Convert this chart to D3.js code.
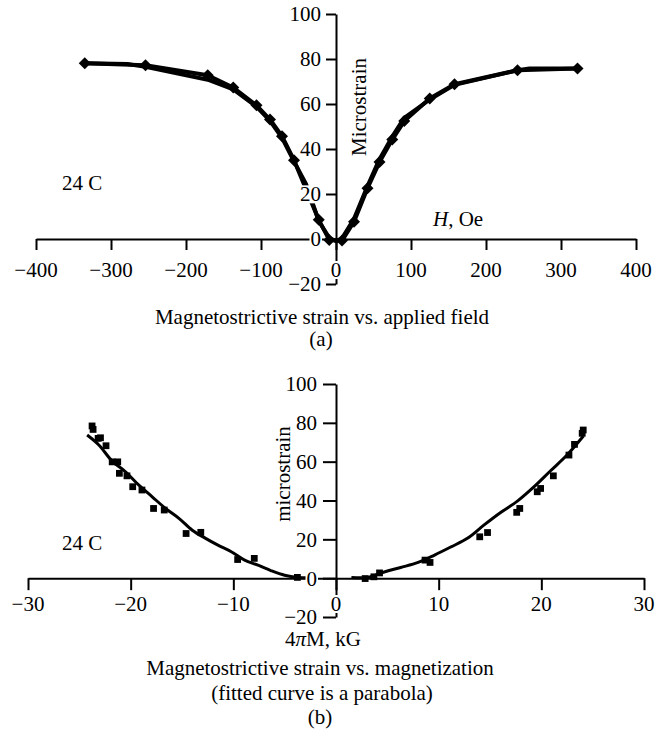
<!DOCTYPE html>
<html>
<head>
<meta charset="utf-8">
<script src="https://cdn.jsdelivr.net/npm/d3@7"></script>
<style>
body { margin: 0; background: #fff; }
text { font-family: "Liberation Serif", "DejaVu Serif", serif; font-size: 21px; fill: #000; }
</style>
</head>
<body>
<script>
// (a) strain vs applied field, two sweeps
const sweepDownH = [322, 242, 158, 125, 91, 75, 58, 42, 24, 8, -9, -23, -56, -72, -88, -106, -137, -171, -254, -335];
const sweepDownS = [75.8, 75, 68.8, 62.4, 52.4, 44.2, 34.2, 22.6, 7.7, -0.7, -0.4, 8.5, 35, 45.7, 53.1, 59.4, 67.3, 72.8, 77.2, 78.1];
const sweepUpH = [-335, -278, -254, -171, -137, -106, -88, -72, -56, -40, -23, -9, 0, 8, 24, 42, 58, 75, 91, 125, 158, 242, 258, 322];
const sweepUpS = [78.1, 77.8, 76.5, 70.8, 66.5, 58.8, 52.5, 45, 34.5, 24.5, 8, 0.5, -1, 0.3, 9, 23.5, 35.5, 45.5, 53.8, 62, 68.5, 75, 75.8, 75.8];
const fieldTicks = [-400, -300, -200, -100, 0, 100, 200, 300, 400];
const strainTicks = [-20, 0, 20, 40, 60, 80, 100];

// (b) strain vs magnetization, measured points + fitted curve
const measM = [-23.76, -23.66, -23.17, -22.94, -22.4, -21.8, -21.26, -21.1, -20.36, -19.8, -18.9, -17.77, -16.73, -14.6, -13.17, -9.58, -7.96, -3.76,
  2.84, 3.69, 4.24, 8.67, 9.16, 14.0, 14.76, 17.6, 17.9, 19.6, 19.93, 21.17, 22.69, 23.23, 23.98, 24.08];
const measS = [78.4, 76.6, 72.0, 72.3, 68.2, 59.9, 59.9, 54.0, 52.7, 47.1, 45.4, 35.9, 35.1, 23.0, 23.6, 9.6, 10.2, 0.4,
  -0.2, 0.7, 2.7, 9.3, 8.1, 21.3, 23.5, 33.9, 35.9, 44.5, 46.2, 52.7, 63.4, 68.9, 74.6, 76.3];
const fitLeftM = [-24.24, -23.1, -21.8, -20.5, -19.2, -17.9, -16.6, -15.3, -14.0, -12.7, -11.5, -10.2, -8.9, -7.6, -6.3, -5.0, -3.7, -2.7];
const fitLeftS = [73.7, 68.6, 60.3, 54.8, 47.9, 41.9, 35.9, 30.8, 24.7, 20.5, 17.0, 13.6, 9.3, 6.7, 3.8, 1.5, 0.4, 0.2];
const fitRightM = [1.5, 3.1, 4.7, 6.3, 8.0, 9.6, 11.2, 12.8, 14.4, 16.0, 17.7, 19.3, 20.9, 22.5, 24.1];
const fitRightS = [0.4, 0.4, 3.2, 5.5, 8.1, 11.9, 16.1, 20.5, 27.3, 33.7, 39.8, 47.1, 55.3, 63.4, 73.2];
const magTicks = [-30, -20, -10, 0, 10, 20, 30];

const fmt = d => d < 0 ? "\u2212" + Math.abs(d) : String(d);
const zip = (xs, ys) => xs.map((x, i) => [x, ys[i]]);

const svg = d3.select("body").append("svg")
    .attr("width", 655)
    .attr("height", 733);

const drawAxes = (g, x, y, xTicks, yTicks, opt) => {
    const x0 = x(0), y0 = y(0);
    g.append("g")
        .attr("transform", `translate(0,${y0})`)
        .call(d3.axisBottom(x).tickValues(xTicks).tickSize(opt.xTick).tickSizeOuter(0).tickFormat(""))
        .call(a => a.selectAll("path,line").attr("stroke", "#000").attr("stroke-width", 2));
    g.append("g")
        .attr("transform", `translate(${x0},0)`)
        .call(d3.axisLeft(y).tickValues(yTicks).tickSize(opt.yTick).tickSizeOuter(0).tickFormat(""))
        .call(a => a.selectAll("path,line").attr("stroke", "#000").attr("stroke-width", 2));
};

// labels with white boxes, drawn over lines
const boxedText = (layer, px, py, str, anchor, dy) => {
    const gg = layer.append("g");
    const t = gg.append("text")
        .attr("x", px).attr("y", py)
        .attr("dy", dy)
        .attr("text-anchor", anchor)
        .text(str);
    const b = t.node().getBBox();
    gg.insert("rect", "text")
        .attr("x", b.x - 1).attr("y", b.y + 3)
        .attr("width", b.width + 2).attr("height", b.height - 6)
        .attr("fill", "#fff");
};

const tickLabels = (layer, x, y, xTicks, yTicks, opt) => {
    xTicks.forEach(v => boxedText(layer, x(v), opt.xBase, fmt(v), "middle", 0));
    yTicks.forEach(v => boxedText(layer, x(0) - opt.yTick - opt.yPad, y(v), fmt(v), "end", "0.35em"));
};

// ---- panel (a)
const xa = d3.scaleLinear().domain([-400, 400]).range([36, 636]);
const ya = d3.scaleLinear().domain([-20, 100]).range([284, 14]);
const ga = svg.append("g");
drawAxes(ga, xa, ya, fieldTicks, strainTicks, { xTick: 11, yTick: 10 });

const lineA = d3.line().x(d => xa(d[0])).y(d => ya(d[1]));
[zip(sweepUpH, sweepUpS), zip(sweepDownH, sweepDownS)].forEach(s => {
    ga.append("path")
        .attr("d", lineA(s))
        .attr("fill", "none")
        .attr("stroke", "#000")
        .attr("stroke-width", 4)
        .attr("stroke-linejoin", "round");
});
ga.selectAll(".dia")
    .data(zip(sweepDownH, sweepDownS))
    .join("path")
    .attr("d", d3.symbol(d3.symbolSquare, 72))
    .attr("transform", d => `translate(${xa(d[0])},${ya(d[1])}) rotate(45)`)
    .attr("fill", "#000");

const la = svg.append("g");
tickLabels(la, xa, ya, fieldTicks, strainTicks, { xBase: 277, yTick: 10, yPad: 5 });

ga.append("text").attr("x", 62).attr("y", 190).text("24 C");
const hl = ga.append("text").attr("x", 433).attr("y", 226);
hl.append("tspan").attr("font-style", "italic").text("H");
hl.append("tspan").text(", Oe");
ga.append("text")
    .attr("transform", "translate(366,107) rotate(-90)")
    .attr("text-anchor", "middle")
    .text("Microstrain");
ga.append("text").attr("x", 322).attr("y", 324).attr("text-anchor", "middle")
    .text("Magnetostrictive strain vs. applied field");
ga.append("text").attr("x", 321).attr("y", 346).attr("text-anchor", "middle").text("(a)");

// ---- panel (b)
const xb = d3.scaleLinear().domain([-30, 30]).range([28, 644]);
const yb = d3.scaleLinear().domain([-20, 100]).range([617, 384]);
const gb = svg.append("g");
drawAxes(gb, xb, yb, magTicks, strainTicks, { xTick: 12, yTick: 13 });

const lineB = d3.line().x(d => xb(d[0])).y(d => yb(d[1])).curve(d3.curveCatmullRom);
[zip(fitLeftM, fitLeftS), zip(fitRightM, fitRightS)].forEach(s => {
    gb.append("path")
        .attr("d", lineB(s))
        .attr("fill", "none")
        .attr("stroke", "#000")
        .attr("stroke-width", 3)
        .attr("stroke-linejoin", "round");
});
gb.selectAll(".sq")
    .data(zip(measM, measS))
    .join("path")
    .attr("d", d3.symbol(d3.symbolSquare, 46))
    .attr("transform", d => `translate(${xb(d[0])},${yb(d[1])})`)
    .attr("fill", "#000");

const lb = svg.append("g");
tickLabels(lb, xb, yb, magTicks, strainTicks, { xBase: 611, yTick: 13, yPad: 6 });

gb.append("text").attr("x", 62).attr("y", 550).text("24 C");
const ml = gb.append("text").attr("x", 285).attr("y", 646);
ml.append("tspan").text("4");
ml.append("tspan").attr("font-style", "italic").text("\u03c0");
ml.append("tspan").text("M, kG");
gb.append("text")
    .attr("transform", "translate(290,474) rotate(-90)")
    .attr("text-anchor", "middle")
    .text("microstrain");
gb.append("text").attr("x", 320).attr("y", 675).attr("text-anchor", "middle")
    .text("Magnetostrictive strain vs. magnetization");
gb.append("text").attr("x", 322).attr("y", 700).attr("text-anchor", "middle")
    .text("(fitted curve is a parabola)");
gb.append("text").attr("x", 320).attr("y", 724).attr("text-anchor", "middle").text("(b)");
</script>
</body>
</html>
